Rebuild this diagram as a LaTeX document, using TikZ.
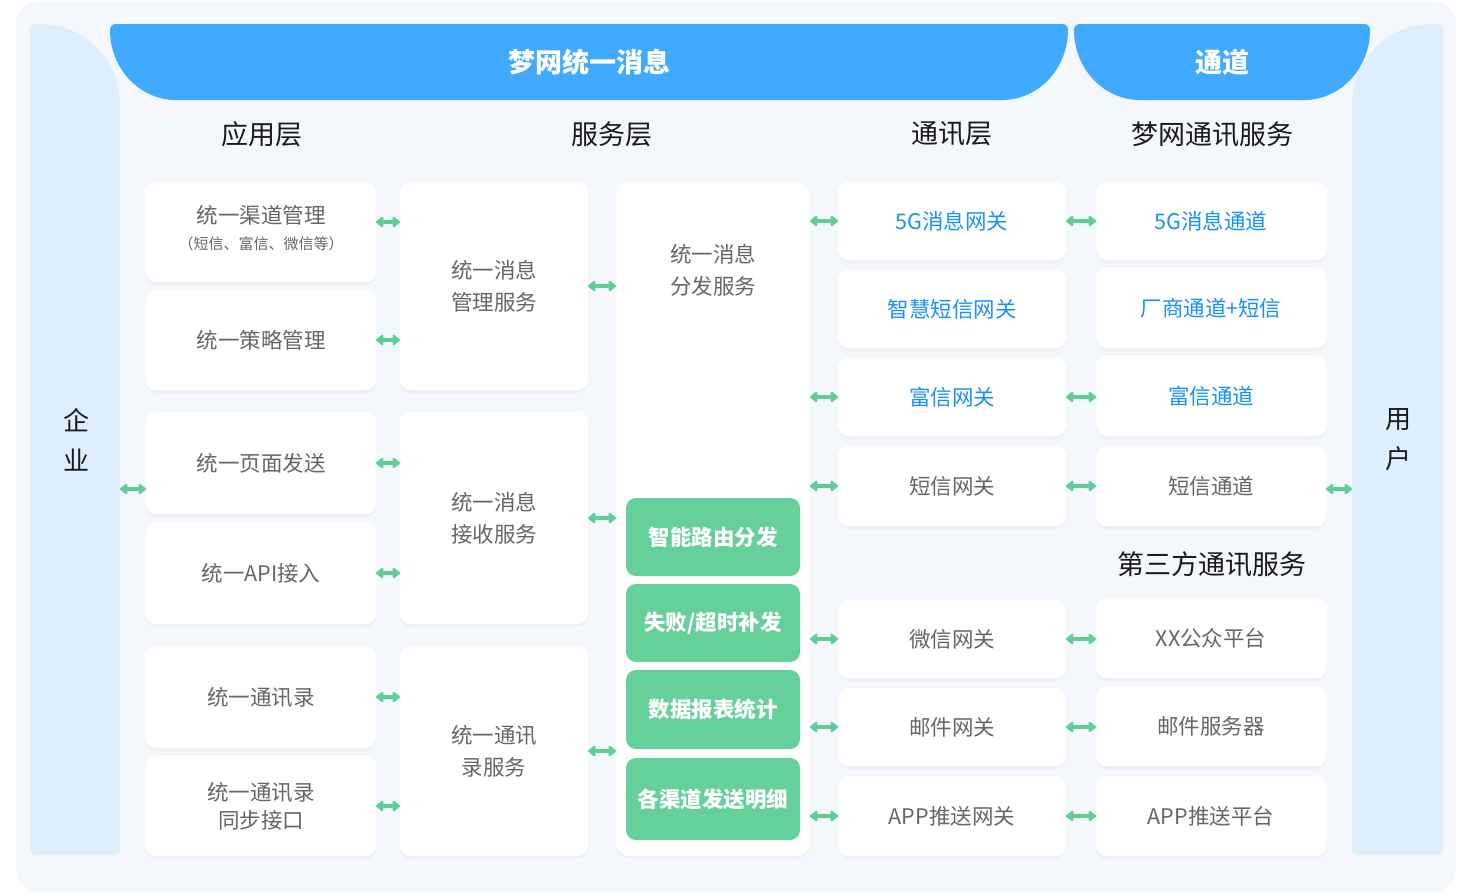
\documentclass[tikz,border=0pt]{standalone}
\usepackage{fontspec}
\setmainfont{Noto Sans CJK SC}
\usetikzlibrary{arrows.meta,shadows}
\definecolor{pagebg}{HTML}{F4F7FC}
\definecolor{panelc}{HTML}{DDEEFD}
\definecolor{bannerc}{HTML}{3FAAFF}
\definecolor{greenc}{HTML}{66D09B}
\definecolor{arrc}{HTML}{5FCD95}
\definecolor{txtc}{HTML}{666666}
\definecolor{bluec}{HTML}{1890FF}
\definecolor{headc}{HTML}{1A1A1A}
\begin{document}
\begin{tikzpicture}[x=1pt,y=-1pt,
  box/.style={fill=white, rounded corners=10pt, inner sep=0pt, outer sep=0pt,
    text=txtc, font=\fontsize{21.5}{31}\selectfont, align=center,
    drop shadow={opacity=0.05, shadow xshift=0pt, shadow yshift=-3pt}},
  bluebox/.style={box, text=bluec},
  gbox/.style={fill=greenc, rounded corners=10pt, inner sep=0pt, outer sep=0pt,
    text=white, font=\fontsize{21.5}{28}\selectfont\bfseries, align=center},
  head/.style={text=headc, font=\fontsize{27}{32}\selectfont},
  bantext/.style={text=white, font=\fontsize{27}{32}\selectfont\bfseries},
  side/.style={text=headc, font=\fontsize{26}{40}\selectfont, align=center},
  arr/.style={{Triangle[length=8pt,width=12pt,round]}-{Triangle[length=8pt,width=12pt,round]},
    line width=3.5pt, draw=arrc},
]
\useasboundingbox (0,0) rectangle (1473,892);
% page background
\fill[white] (0,0) rectangle (1473,892);
\fill[pagebg, rounded corners=22pt] (16,2) rectangle (1456,892);

% left panel
\node[inner sep=0pt, outer sep=0pt, minimum width=90pt, minimum height=831pt] (L) at (75,439.5) {};
\fill[panelc] (30,30) .. controls (30,26.7) and (32,24) .. (35,24) -- (40,24)
  .. controls (84.2,24) and (120,59.8) .. (120,104) -- (120,849)
  .. controls (120,852.3) and (117.3,855) .. (114,855) -- (36,855)
  .. controls (32.7,855) and (30,852.3) .. (30,849) -- cycle;
\node[side] (Lt) at (76,440) {企\\业};

% right panel
\node[inner sep=0pt, outer sep=0pt, minimum width=91pt, minimum height=831pt] (R) at (1397.5,439.5) {};
\fill[panelc] (1443,30) .. controls (1443,26.7) and (1441,24) .. (1438,24) -- (1432,24)
  .. controls (1387.8,24) and (1352,59.8) .. (1352,104) -- (1352,849)
  .. controls (1352,852.3) and (1354.7,855) .. (1358,855) -- (1437,855)
  .. controls (1440.3,855) and (1443,852.3) .. (1443,849) -- cycle;
\node[side] (Rt) at (1398,440) {用\\户};

% banners
\fill[bannerc] (1002,100) -- (176,100) .. controls (139.6,100) and (110,68.6) .. (110,30)
  .. controls (110,26.5) and (112.5,24) .. (116,24) -- (1062,24)
  .. controls (1065.5,24) and (1068,26.5) .. (1068,30)
  .. controls (1068,68.6) and (1038.4,100) .. (1002,100) -- cycle;
\node[bantext] (B1) at (589,62) {梦网统一消息};
\fill[bannerc] (1304,100) -- (1140,100) .. controls (1103.6,100) and (1074,68.6) .. (1074,30)
  .. controls (1074,26.5) and (1076.5,24) .. (1080,24) -- (1364,24)
  .. controls (1367.5,24) and (1370,26.5) .. (1370,30)
  .. controls (1370,68.6) and (1340.4,100) .. (1304,100) -- cycle;
\node[bantext] (B2) at (1222,62) {通道};

% headers
\node[head] (h1) at (262,134) {应用层};
\node[head] (h2) at (612,134) {服务层};
\node[head] (h3) at (952,134) {通讯层};
\node[head] (h4) at (1212,134) {梦网通讯服务};
\node[head] (h5) at (1212,564) {第三方通讯服务};

% column 1
\node[box, minimum width=230pt, minimum height=100pt] (a1) at (261,232) {};
\node[text=txtc, font=\fontsize{21.5}{28}\selectfont, align=center] (a1t) at (261,228)
  {统一渠道管理\\[-2pt]{\fontsize{15}{18}\selectfont （短信、富信、微信等）}};
\node[box, minimum width=230pt, minimum height=100pt] (a2) at (261,340) {统一策略管理};
\node[box, minimum width=230pt, minimum height=102pt] (a3) at (261,463) {统一页面发送};
\node[box, minimum width=230pt, minimum height=102pt] (a4) at (261,573) {统一API接入};
\node[box, minimum width=230pt, minimum height=102pt] (a5) at (261,697) {统一通讯录};
\node[box, minimum width=230pt, minimum height=100pt, font=\fontsize{21.5}{28}\selectfont] (a6) at (261,806) {统一通讯录\\同步接口};

% column 2
\node[box, minimum width=188pt, minimum height=208pt, font=\fontsize{21.5}{32}\selectfont] (b1) at (494,286) {统一消息\\管理服务};
\node[box, minimum width=188pt, minimum height=212pt, font=\fontsize{21.5}{32}\selectfont] (b2) at (494,518) {统一消息\\接收服务};
\node[box, minimum width=188pt, minimum height=210pt, font=\fontsize{21.5}{32}\selectfont] (b3) at (494,751) {统一通讯\\录服务};

% column 3
\node[box, minimum width=194pt, minimum height=674pt, rounded corners=14pt] (c) at (713,519) {};
\node[text=txtc, font=\fontsize{21.5}{32}\selectfont, align=center] (ct) at (713,270) {统一消息\\分发服务};
\node[gbox, minimum width=174pt, minimum height=78pt] (g1) at (713,537) {智能路由分发};
\node[gbox, minimum width=174pt, minimum height=78pt] (g2) at (713,623) {失败/超时补发};
\node[gbox, minimum width=174pt, minimum height=79pt] (g3) at (713,709.5) {数据报表统计};
\node[gbox, minimum width=174pt, minimum height=82pt] (g4) at (713,799) {各渠道发送明细};

% column 4
\node[bluebox, minimum width=228pt, minimum height=78pt] (d1) at (952,221) {5G消息网关};
\node[bluebox, minimum width=228pt, minimum height=78pt] (d2) at (952,309) {智慧短信网关};
\node[bluebox, minimum width=228pt, minimum height=78pt] (d3) at (952,397) {富信网关};
\node[box, minimum width=228pt, minimum height=80pt] (d4) at (952,486) {短信网关};
\node[box, minimum width=228pt, minimum height=78pt] (d5) at (952,639) {微信网关};
\node[box, minimum width=228pt, minimum height=78pt] (d6) at (952,727) {邮件网关};
\node[box, minimum width=228pt, minimum height=80pt] (d7) at (952,816) {APP推送网关};

% column 5
\node[bluebox, minimum width=230pt, minimum height=78pt] (e1) at (1211,221) {5G消息通道};
\node[bluebox, minimum width=230pt, minimum height=80pt] (e2) at (1211,308) {厂商通道+短信};
\node[bluebox, minimum width=230pt, minimum height=80pt] (e3) at (1211,396) {富信通道};
\node[box, minimum width=230pt, minimum height=80pt] (e4) at (1211,486) {短信通道};
\node[box, minimum width=230pt, minimum height=80pt] (e5) at (1211,638) {XX公众平台};
\node[box, minimum width=230pt, minimum height=80pt] (e6) at (1211,726) {邮件服务器};
\node[box, minimum width=230pt, minimum height=80pt] (e7) at (1211,816) {APP推送平台};

% arrows: enterprise -> column 1, column 5 -> users
\draw[arr] ([yshift=-49.5pt]L.east) -- ([yshift=-49.5pt]L.east -| a3.west);
\draw[arr] ([yshift=-49.5pt]R.west -| e4.east) -- ([yshift=-49.5pt]R.west);

% arrows column 1 -> column 2
\draw[arr] ([yshift=10pt]a1.east) -- ([yshift=10pt]a1.east -| b1.west);
\draw[arr] (a2.east) -- (a2.east -| b1.west);
\draw[arr] (a3.east) -- (a3.east -| b2.west);
\draw[arr] (a4.east) -- (a4.east -| b2.west);
\draw[arr] (a5.east) -- (a5.east -| b3.west);
\draw[arr] (a6.east) -- (a6.east -| b3.west);

% arrows column 2 -> column 3
\draw[arr] (b1.east) -- (b1.east -| c.west);
\draw[arr] (b2.east) -- (b2.east -| c.west);
\draw[arr] (b3.east) -- (b3.east -| c.west);

% arrows column 3 -> column 4
\foreach \n in {d1,d3,d4,d5,d6,d7} {
  \draw[arr] (\n.west -| c.east) -- (\n.west);
}
% arrows column 4 -> column 5
\draw[arr] (d1.east) -- (d1.east -| e1.west);
\draw[arr] (d3.east) -- (d3.east -| e3.west);
\draw[arr] (d4.east) -- (d4.east -| e4.west);
\draw[arr] (d5.east) -- (d5.east -| e5.west);
\draw[arr] (d6.east) -- (d6.east -| e6.west);
\draw[arr] (d7.east) -- (d7.east -| e7.west);
\end{tikzpicture}
\end{document}
